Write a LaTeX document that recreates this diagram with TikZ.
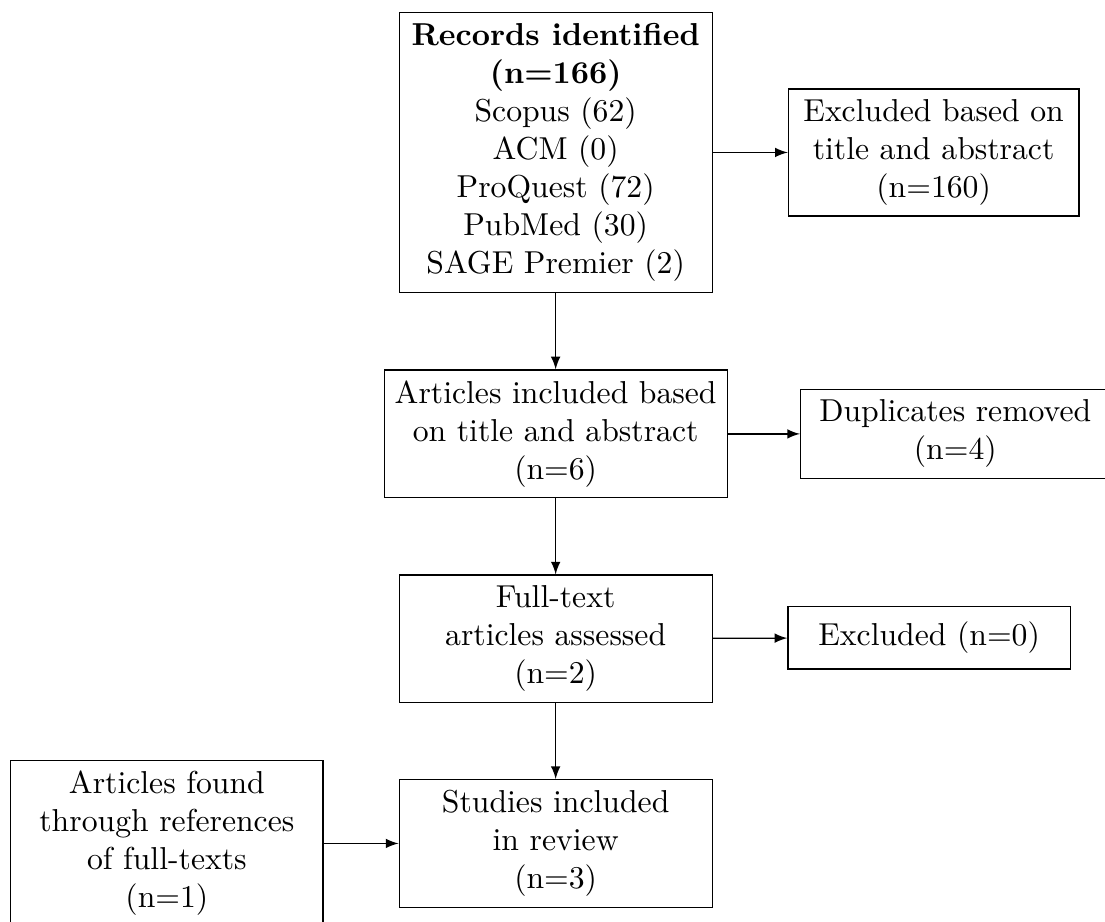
\documentclass[tikz,border=0pt]{standalone}
\usepackage{tikz}
\usetikzlibrary{arrows}

\begin{document}
\begin{tikzpicture}[>=latex, box/.style={draw, align=center}]
	\clip (0,0) rectangle (12.25,-10.21);
	\node[box, minimum width=3.47cm] at (6.16,-1.69) (rec) {\textbf{Records identified}\\ \textbf{(n=166)}\\ Scopus (62)\\ ACM (0)\\ ProQuest (72)\\ PubMed (30)\\ SAGE Premier (2)};
	\node[box, minimum width=3.22cm] at (10.35,-1.69) (excl) {Excluded based on\\ title and abstract\\ (n=160)};
	\node[box, minimum width=3.74cm] at (6.16,-4.81) (incl) {Articles included based\\ on title and abstract\\ (n=6)};
	\node[box, minimum width=3.43cm] at (10.59,-4.81) (dup) {Duplicates removed\\ (n=4)};
	\node[box, minimum width=3.47cm] at (6.16,-7.08) (full) {Full-text\\ articles assessed\\ (n=2)};
	\node[box, minimum width=3.13cm, minimum height=0.69cm] at (10.30,-7.07) (excl0) {Excluded (n=0)};
	\node[box, minimum width=3.47cm] at (6.16,-9.35) (stud) {Studies included\\ in review\\ (n=3)};
	\node[box, minimum width=3.46cm] at (1.85,-9.35) (found) {Articles found\\ through references\\ of full-texts\\ (n=1)};
    \path[->] (rec) edge (excl);
    \path[->] (rec) edge (incl);
    \path[->] (incl) edge (dup);
    \path[->] (incl) edge (full);
    \path[->] (full) edge (excl0);
    \path[->] (full) edge (stud);
    \path[->] (found) edge (stud);
\end{tikzpicture}
\end{document}
